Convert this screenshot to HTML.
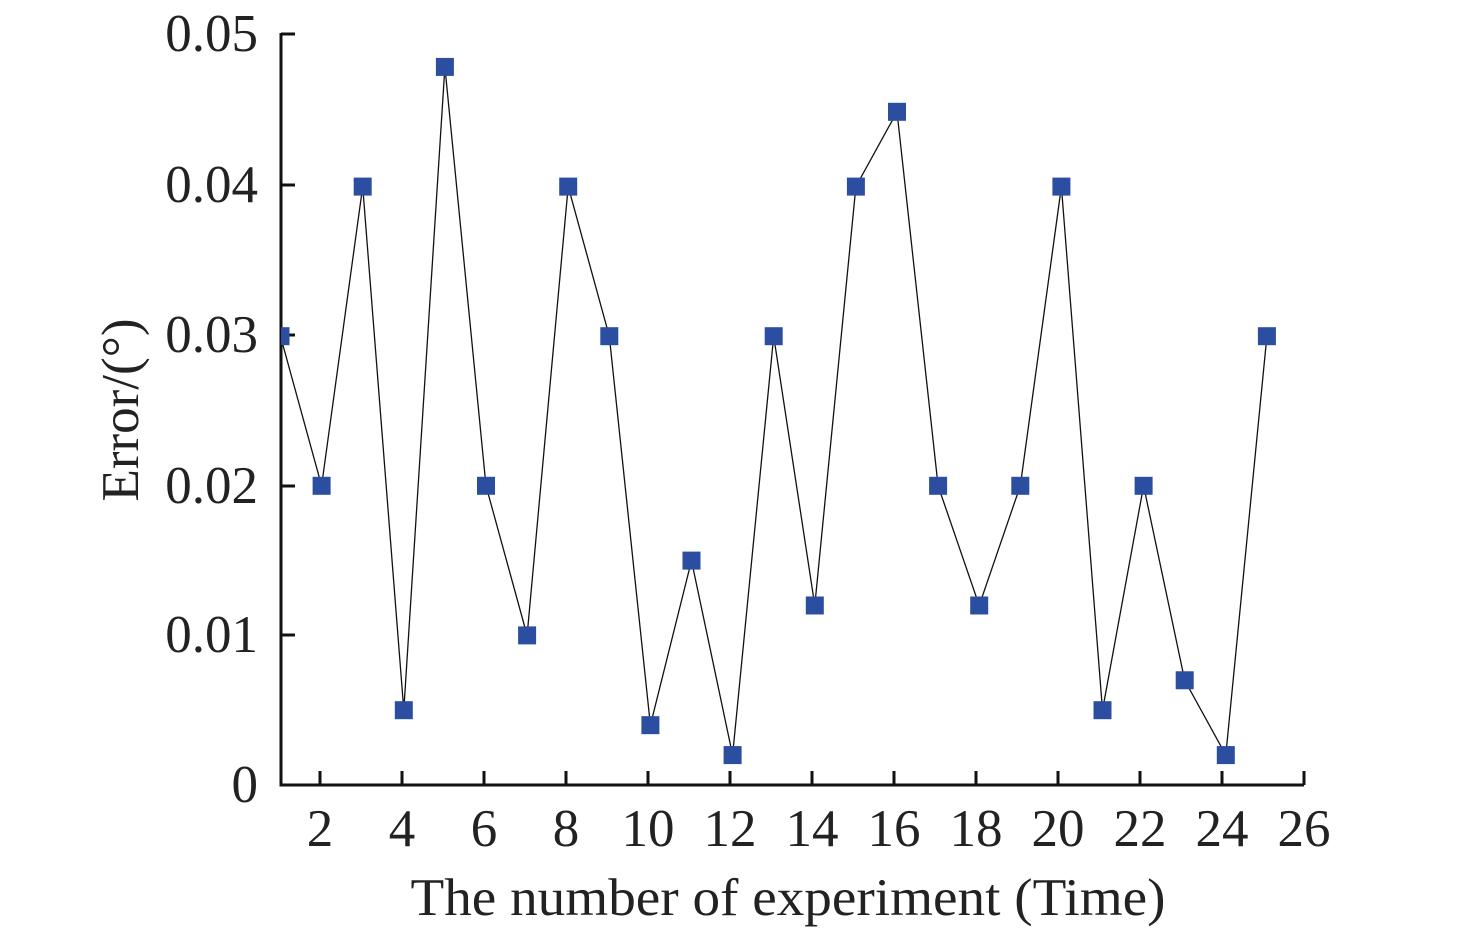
<!DOCTYPE html>
<html><head><style>body{margin:0;background:#fff}</style></head><body>
<svg width="1476" height="937" xmlns="http://www.w3.org/2000/svg" font-family="Liberation Serif, serif" fill="#222">
<defs><clipPath id="c"><rect x="281" y="0" width="1100" height="800"/></clipPath></defs>
<g stroke="#111" stroke-width="3" fill="none">
<path d="M281,33 V785 H1304"/>
<path d="M281,34 h14 M281,185 h14 M281,335 h14 M281,486 h14 M281,635 h14"/>
<path d="M320,785 v-14 M402,785 v-14 M484,785 v-14 M566,785 v-14 M648,785 v-14 M730,785 v-14 M812,785 v-14 M894,785 v-14 M976,785 v-14 M1058,785 v-14 M1140,785 v-14 M1222,785 v-14 M1304,785 v-14"/>
</g>
<g font-size="53" text-anchor="end">
<text x="258" y="51">0.05</text><text x="258" y="202">0.04</text><text x="258" y="352">0.03</text><text x="258" y="503">0.02</text><text x="258" y="652">0.01</text><text x="258" y="802">0</text>
</g>
<g font-size="53" text-anchor="middle">
<text x="320" y="846">2</text><text x="402" y="846">4</text><text x="484" y="846">6</text><text x="566" y="846">8</text><text x="648" y="846">10</text><text x="730" y="846">12</text><text x="812" y="846">14</text><text x="894" y="846">16</text><text x="976" y="846">18</text><text x="1058" y="846">20</text><text x="1140" y="846">22</text><text x="1222" y="846">24</text><text x="1304" y="846">26</text>
</g>
<text x="788" y="915" font-size="53" text-anchor="middle" textLength="755" lengthAdjust="spacingAndGlyphs">The number of experiment (Time)</text>
<text transform="translate(138,410) rotate(-90)" font-size="53" text-anchor="middle">Error/(°)</text>
<g id="p" clip-path="url(#c)"></g>
</svg>
<script>
var d=[0.03,0.02,0.04,0.005,0.048,0.02,0.01,0.04,0.03,0.004,0.015,0.002,0.03,0.012,0.04,0.045,0.02,0.012,0.02,0.04,0.005,0.02,0.007,0.002,0.03];
var g=document.getElementById('p'),ns='http://www.w3.org/2000/svg',pts=[];
d.forEach(function(v,i){pts.push([280.5+41.1*i,785-v*14960]);});
var pl=document.createElementNS(ns,'polyline');pl.setAttribute('points',pts.map(function(p){return p.join(',')}).join(' '));
pl.setAttribute('fill','none');pl.setAttribute('stroke','#111');pl.setAttribute('stroke-width','1.3');g.appendChild(pl);
pts.forEach(function(p){var r=document.createElementNS(ns,'rect');r.setAttribute('x',p[0]-9);r.setAttribute('y',p[1]-9);r.setAttribute('width',18);r.setAttribute('height',18);r.setAttribute('fill','#2c4ea0');g.appendChild(r);});
</script>
</body></html>
